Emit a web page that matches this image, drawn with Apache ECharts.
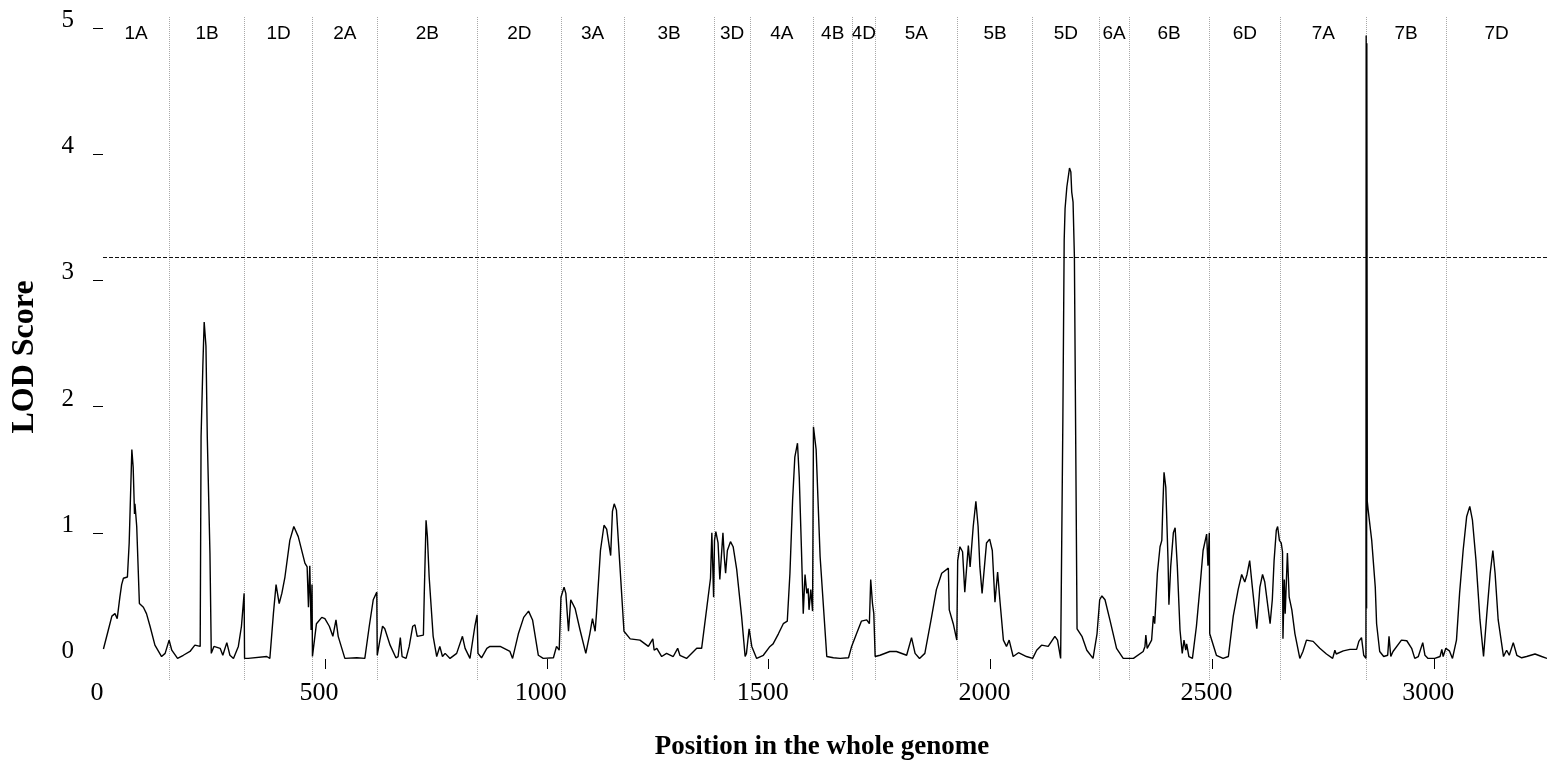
<!DOCTYPE html>
<html><head><meta charset="utf-8">
<script src="https://cdn.jsdelivr.net/npm/echarts@6/dist/echarts.min.js"></script>
<style>html,body{margin:0;padding:0;background:#fff}#c{width:1547px;height:770px}</style>
</head><body><div id="c"></div>
<script>
const chromosomes = ['1A','1B','1D','2A','2B','2D','3A','3B','3D','4A','4B','4D','5A','5B','5D','6A','6B','6D','7A','7B','7D'];
const chromStarts = [0,149.4,319.3,472.5,617.4,844.3,1032,1174.6,1376.8,1458.6,1600.5,1688.4,1740.2,1925.5,2095,2244.7,2312.3,2492.2,2654,2845.9,3026.9];
const genomeEnd = 3254;
const lodThreshold = 3.18;
const xTickValues = [500,1000,1500,2000,2500,3000];
const xLabelValues = [0,500,1000,1500,2000,2500,3000];
const yTickValues = [1,2,3,4,5];
const yLabelValues = [0,1,2,3,4,5];

const lodPositions = [1,12,20,27,32,38,42,46,55,59,65,68,71,72,76,82,91,98,106,117,132,140,149,155,168,181,196,207,219,221,225,228,232,235,241,244,250,264,270,279,286,294,305,312,318,319,327,369,376,384,390,393,397,403,410,421,430,440,455,460,463,466,469,471,472,481,493,500,510,518,525,530,545,572,590,600,609,617,618,624,630,635,647,660,665,670,674,683,690,698,703,708,722,724,728,731,735,744,752,759,765,771,782,797,810,816,827,838,843,845,853,865,872,895,917,923,936,948,959,968,981,992,1015,1022,1028,1032,1039,1043,1049,1054,1064,1075,1088,1097,1103,1109,1112,1121,1129,1135,1144,1148,1152,1157,1165,1174,1188,1210,1229,1239,1242,1248,1259,1270,1285,1295,1300,1315,1338,1349,1360,1369,1372,1376,1378,1381,1386,1390,1397,1400,1403,1407,1414,1420,1428,1439,1447,1450,1456,1462,1473,1488,1503,1510,1522,1533,1542,1548,1554,1559,1565,1569,1574,1578,1582,1586,1589,1591,1595,1599,1601,1607,1616,1631,1646,1661,1680,1687,1698,1709,1721,1727,1730,1734,1737,1740,1751,1773,1788,1811,1822,1830,1840,1852,1867,1878,1890,1905,1907,1916,1924,1926,1931,1937,1942,1950,1954,1961,1967,1972,1976,1981,1991,1998,2004,2010,2016,2021,2029,2036,2042,2051,2063,2081,2095,2104,2115,2130,2145,2151,2158,2161,2163,2166,2168,2172,2178,2181,2183,2186,2189,2195,2206,2217,2231,2240,2246,2251,2258,2269,2284,2299,2322,2344,2348,2350,2353,2363,2367,2370,2376,2382,2386,2388,2391,2395,2400,2402,2406,2412,2416,2421,2427,2432,2436,2440,2442,2447,2455,2464,2472,2479,2487,2490,2493,2494,2509,2524,2536,2547,2558,2566,2573,2578,2584,2590,2600,2607,2613,2618,2630,2635,2639,2644,2647,2651,2655,2658,2659,2662,2664,2669,2673,2679,2686,2697,2704,2712,2727,2742,2757,2771,2776,2779,2795,2810,2825,2830,2836,2841,2846,2846.5,2847.5,2848,2849,2851,2859,2867,2870,2877,2886,2895,2898,2902,2907,2926,2938,2949,2956,2964,2974,2979,2986,3001,3013,3017,3020,3026,3034,3041,3050,3057,3065,3073,3080,3086,3094,3103,3111,3118,3126,3132,3137,3144,3156,3163,3169,3178,3186,3197,3208,3227,3242,3254];
const lodScores = [0.08,0.23,0.34,0.36,0.32,0.49,0.59,0.64,0.65,0.92,1.66,1.52,1.15,1.23,1.05,0.44,0.41,0.36,0.26,0.11,0.02,0.045,0.15,0.07,0.005,0.03,0.06,0.11,0.10,1.76,2.32,2.67,2.48,1.76,0.84,0.045,0.10,0.085,0.03,0.13,0.03,0.005,0.10,0.26,0.52,0.005,0.005,0.02,0.005,0.36,0.59,0.59,0.44,0.52,0.65,0.94,1.05,0.97,0.76,0.73,0.41,0.74,0.23,0.59,0.02,0.28,0.33,0.32,0.26,0.18,0.31,0.18,0.005,0.01,0.005,0.26,0.47,0.53,0.03,0.15,0.26,0.24,0.11,0.01,0.02,0.17,0.02,0.005,0.10,0.26,0.27,0.18,0.19,0.52,1.10,0.97,0.65,0.18,0.02,0.10,0.02,0.045,0.005,0.045,0.18,0.085,0.005,0.26,0.35,0.045,0.01,0.085,0.10,0.10,0.06,0.005,0.20,0.33,0.38,0.31,0.03,0.005,0.01,0.10,0.07,0.49,0.57,0.52,0.22,0.47,0.40,0.23,0.045,0.20,0.32,0.22,0.36,0.86,1.06,1.03,0.82,1.17,1.23,1.18,0.73,0.22,0.16,0.15,0.10,0.16,0.07,0.085,0.02,0.045,0.02,0.085,0.03,0.005,0.085,0.085,0.39,0.64,1.0,0.49,0.94,1.01,0.92,0.63,1.0,0.81,0.68,0.86,0.93,0.89,0.71,0.34,0.02,0.045,0.24,0.10,0.005,0.03,0.10,0.12,0.20,0.28,0.30,0.68,1.26,1.60,1.71,1.44,0.86,0.36,0.67,0.52,0.56,0.39,0.55,0.38,1.84,1.66,0.81,0.02,0.01,0.005,0.01,0.10,0.20,0.30,0.31,0.28,0.63,0.44,0.36,0.02,0.03,0.06,0.06,0.03,0.17,0.045,0.005,0.045,0.33,0.55,0.68,0.72,0.39,0.28,0.15,0.78,0.89,0.85,0.53,0.90,0.73,1.05,1.25,1.05,0.73,0.52,0.92,0.95,0.86,0.45,0.69,0.47,0.15,0.10,0.15,0.02,0.05,0.02,0.005,0.07,0.11,0.10,0.18,0.15,0.005,0.01,1.89,3.32,3.57,3.74,3.89,3.86,3.70,3.62,3.19,0.24,0.18,0.07,0.005,0.20,0.47,0.50,0.47,0.31,0.085,0.005,0.005,0.06,0.10,0.19,0.085,0.15,0.34,0.28,0.68,0.89,0.94,1.18,1.48,1.36,0.78,0.43,0.73,1.0,1.04,0.73,0.23,0.045,0.15,0.07,0.12,0.02,0.005,0.26,0.57,0.86,0.99,0.74,1.0,0.20,0.03,0.005,0.02,0.34,0.55,0.67,0.61,0.67,0.78,0.57,0.24,0.57,0.67,0.61,0.28,0.47,0.78,1.02,1.05,0.94,0.92,0.85,0.16,0.63,0.36,0.84,0.49,0.39,0.20,0.005,0.06,0.15,0.14,0.085,0.04,0.005,0.07,0.04,0.065,0.077,0.077,0.14,0.17,0.03,0.005,4.94,0.4,4.88,1.25,1.18,0.94,0.57,0.28,0.06,0.02,0.03,0.18,0.02,0.06,0.15,0.145,0.085,0.005,0.02,0.13,0.03,0.005,0.005,0.02,0.077,0.02,0.085,0.065,0.005,0.15,0.52,0.86,1.13,1.21,1.10,0.78,0.31,0.02,0.34,0.68,0.86,0.68,0.31,0.02,0.07,0.03,0.13,0.03,0.01,0.02,0.04,0.02,0.005];

const SERIF = "'Liberation Serif','Times New Roman',serif";
const SANS = "'Liberation Sans',Arial,sans-serif";

const boundaryLines = chromStarts.slice(1).map(x => ({
  xAxis: x,
  lineStyle: { color: '#a8a8a8', type: [1, 1], width: 1 }
}));
const thresholdLine = { yAxis: lodThreshold, lineStyle: { color: '#111', type: [4, 2], width: 1 } };
const chromAreas = chromosomes.map((name, i) => [
  { xAxis: chromStarts[i], name: name },
  { xAxis: i + 1 < chromStarts.length ? chromStarts[i + 1] : genomeEnd }
]);

const chart = echarts.init(document.getElementById('c'), null, { renderer: 'canvas' });
chart.setOption({
  animation: false,
  backgroundColor: '#fff',
  grid: { left: 103, right: 0, top: 16, bottom: 90 },
  xAxis: {
    type: 'value', min: 0, max: genomeEnd, offset: -21,
    axisLine: { show: false },
    splitLine: { show: false },
    axisTick: { show: true, length: 10, customValues: xTickValues, lineStyle: { color: '#000', width: 1 } },
    axisLabel: { customValues: xLabelValues, formatter: v => String(v), margin: 34, verticalAlign: 'middle', padding: [0, 12, 0, 0],
      fontFamily: SERIF, fontSize: 26, color: '#000' },
    name: 'Position in the whole genome', nameLocation: 'middle', nameGap: 75,
    nameTextStyle: { fontFamily: SERIF, fontWeight: 'bold', fontSize: 27, color: '#000', padding: [0, 6, 0, 0] }
  },
  yAxis: {
    type: 'value', min: -0.166, max: 5.095,
    axisLine: { show: false },
    splitLine: { show: false },
    axisTick: { show: true, length: 10, customValues: yTickValues, lineStyle: { color: '#000', width: 1 } },
    axisLabel: { customValues: yLabelValues, formatter: v => String(v), margin: 29, verticalAlign: 'bottom', lineHeight: 15,
      fontFamily: SERIF, fontSize: 25, color: '#000' },
    name: 'LOD Score', nameLocation: 'middle', nameGap: 62,
    nameTextStyle: { fontFamily: SERIF, fontWeight: 'bold', fontSize: 32, color: '#000', padding: [0, 18, 0, 0] }
  },
  series: [{
    type: 'line',
    data: lodPositions.map((p, i) => [p, lodScores[i]]),
    symbol: 'none',
    smooth: false,
    lineStyle: { color: '#000', width: 1.4 },
    z: 5,
    markLine: {
      silent: true, symbol: 'none', label: { show: false },
      data: boundaryLines.concat([thresholdLine]),
      z: 2
    },
    markArea: {
      silent: true,
      itemStyle: { color: 'rgba(0,0,0,0)' },
      label: { show: true, position: 'insideTop', distance: 8, fontFamily: SANS, fontSize: 19, color: '#000' },
      data: chromAreas
    }
  }]
});
</script>
</body></html>
